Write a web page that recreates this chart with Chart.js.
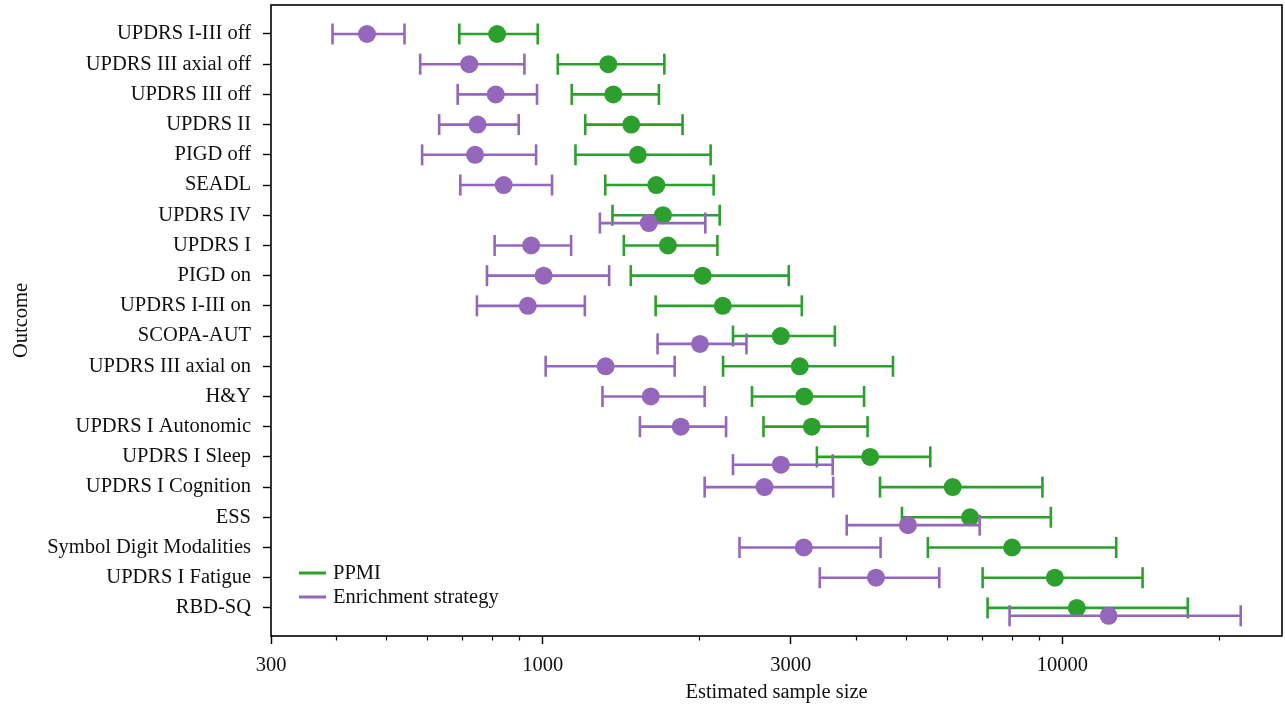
<!DOCTYPE html>
<html>
<head>
<meta charset="utf-8">
<script src="https://cdn.jsdelivr.net/npm/chart.js@4.4.1/dist/chart.umd.min.js"></script>
<style>
html,body{margin:0;padding:0;background:#fff;}
#wrap{width:1285px;height:706px;position:relative;}
</style>
</head>
<body>
<div id="wrap"><canvas id="c"></canvas></div>
<script>
const categories = [
  "UPDRS I-III off","UPDRS III axial off","UPDRS III off","UPDRS II","PIGD off",
  "SEADL","UPDRS IV","UPDRS I","PIGD on","UPDRS I-III on",
  "SCOPA-AUT","UPDRS III axial on","H&Y","UPDRS I Autonomic","UPDRS I Sleep",
  "UPDRS I Cognition","ESS","Symbol Digit Modalities","UPDRS I Fatigue","RBD-SQ"
];
const ppmiLow  = [691,1069,1137,1207,1156,1319,1362,1432,1477,1649,2323,2223,2527,2659,3369,4456,4911,5508,7020,7176];
const ppmiEst  = [817,1337,1367,1480,1524,1654,1703,1741,2031,2220,2871,3123,3186,3294,4265,6149,6641,8000,9670,10656];
const ppmiHigh = [978,1714,1673,1858,2104,2132,2190,2168,2974,3151,3648,4719,4152,4217,5568,9151,9498,12688,14261,17425];
const enrLow   = [394,581,686,632,586,694,1288,808,781,747,1663,1013,1303,1538,2323,2049,3845,2391,3412,7911];
const enrEst   = [459,722,812,749,741,841,1600,950,1004,936,2007,1321,1614,1843,2872,2671,5043,3179,4377,12269];
const enrHigh  = [542,922,975,899,971,1042,2055,1134,1342,1205,2466,1794,2049,2253,3613,3621,6928,4467,5794,22029];
const seriesNames = ["PPMI","Enrichment strategy"];
const xMajorTicks = [300,1000,3000,10000];
const xMinorTicks = [400,500,600,700,800,900,2000,4000,5000,6000,7000,8000,9000,20000];
const xTitle = "Estimated sample size";
const yTitle = "Outcome";

const GREEN = "#2ca02c";
const PURPLE = "#9467bd";
const FONT = "'Liberation Serif', 'Times New Roman', serif";
const FS = 20.5;
const SHIFT = 0.26;

// shift enrichment row down when its interval overlaps PPMI interval
const enrShift = categories.map((c,i) => (enrHigh[i] >= ppmiLow[i] && enrLow[i] <= ppmiHigh[i]) ? SHIFT : 0);

function barData(lo, hi, shift) {
  const out = [];
  categories.forEach((c,i) => {
    const y = i + (shift ? shift[i] : 0);
    out.push({x: lo[i], y: y});
    out.push({x: hi[i], y: y});
    out.push({x: hi[i], y: null});
  });
  return out;
}
function pointData(est, shift) {
  return categories.map((c,i) => ({x: est[i], y: i + (shift ? shift[i] : 0)}));
}

const barStyle = (col) => ({
  showLine: true, spanGaps: false, borderColor: col, borderWidth: 2.6,
  pointStyle: 'line', pointRotation: 90, pointRadius: 10.5, pointBorderColor: col,
  pointBorderWidth: 2.6, pointBackgroundColor: col, pointHoverRadius: 10.5
});
const ptStyle = (col) => ({
  showLine: false, pointStyle: 'circle', pointRadius: 9, pointBackgroundColor: col,
  pointBorderWidth: 0, pointBorderColor: col, pointHoverRadius: 9
});

const boxPlugin = {
  id: 'boxAndExtras',
  afterDraw(chart) {
    const {ctx, chartArea: a, scales} = chart;
    ctx.save();
    // minor ticks
    ctx.strokeStyle = '#000';
    ctx.lineWidth = 1.2;
    xMinorTicks.forEach(v => {
      const x = Math.round(scales.x.getPixelForValue(v)) + 0.5;
      ctx.beginPath(); ctx.moveTo(x, a.bottom); ctx.lineTo(x, a.bottom + 4.5); ctx.stroke();
    });
    // frame
    ctx.lineWidth = 1.6;
    ctx.strokeRect(a.left, a.top, a.right - a.left, a.bottom - a.top);
    // legend inside
    const items = [[seriesNames[0], GREEN], [seriesNames[1], PURPLE]];
    ctx.font = FS + "px " + FONT;
    ctx.textBaseline = 'middle';
    ctx.textAlign = 'left';
    items.forEach((it, k) => {
      const y = a.bottom - 63 + k * 24;
      ctx.strokeStyle = it[1]; ctx.lineWidth = 3;
      ctx.beginPath(); ctx.moveTo(a.left + 28, y); ctx.lineTo(a.left + 55, y); ctx.stroke();
      ctx.fillStyle = '#111';
      ctx.fillText(it[0], a.left + 62, y + 1);
    });
    ctx.restore();
  }
};

Chart.defaults.font.family = FONT;
Chart.defaults.font.size = FS;
Chart.defaults.color = '#111';

new Chart(document.getElementById('c'), {
  type: 'scatter',
  data: {
    datasets: [
      Object.assign({label: seriesNames[1] + ' est', data: pointData(enrEst, enrShift), order: 0}, ptStyle(PURPLE)),
      Object.assign({label: seriesNames[1], data: barData(enrLow, enrHigh, enrShift), order: 1}, barStyle(PURPLE)),
      Object.assign({label: seriesNames[0] + ' est', data: pointData(ppmiEst, null), order: 2}, ptStyle(GREEN)),
      Object.assign({label: seriesNames[0], data: barData(ppmiLow, ppmiHigh, null), order: 3}, barStyle(GREEN))
    ]
  },
  options: {
    responsive: true,
    maintainAspectRatio: false,
    animation: false,
    events: [],
    layout: {autoPadding: false, padding: {top: 5, right: 3, left: 0, bottom: 0}},
    plugins: {legend: {display: false}, tooltip: {enabled: false}},
    scales: {
      x: {
        type: 'logarithmic',
        min: 300, max: 26450,
        afterBuildTicks: (s) => { s.ticks = xMajorTicks.map(v => ({value: v})); },
        afterFit: (s) => { s.height = 70; s.paddingLeft = 0; s.paddingRight = 0; },
        ticks: {callback: (v) => String(v), maxRotation: 0, autoSkip: false, padding: 9, color: '#111', font: {size: FS}},
        grid: {drawOnChartArea: false, drawTicks: true, tickLength: 8, tickColor: '#000', tickWidth: 1.4},
        border: {display: false},
        title: {display: true, text: xTitle, color: '#111', font: {size: FS}, padding: {top: 0, bottom: 1}}
      },
      y: {
        type: 'linear',
        reverse: true,
        min: -0.96, max: 19.93,
        afterBuildTicks: (s) => { s.ticks = categories.map((c, i) => ({value: i})); },
        afterFit: (s) => { s.width = 271; s.paddingTop = 0; s.paddingBottom = 0; },
        ticks: {callback: (v) => categories[v] !== undefined ? categories[v] : '', autoSkip: false, padding: 12, color: '#111', font: {size: FS}},
        grid: {drawOnChartArea: false, drawTicks: true, tickLength: 8, tickColor: '#000', tickWidth: 1.4},
        border: {display: false},
        title: {display: true, text: yTitle, color: '#111', font: {size: FS}, padding: {top: 9, bottom: 0}}
      }
    }
  },
  plugins: [boxPlugin]
});
</script>
</body>
</html>
